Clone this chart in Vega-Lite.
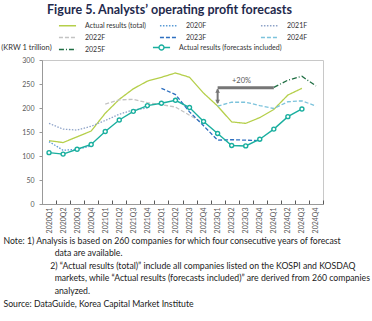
{
  "$schema": "https://vega.github.io/schema/vega-lite/v6.json",
  "width": 281,
  "height": 144,
  "autosize": "none",
  "padding": {"left": 42, "top": 60, "right": 49, "bottom": 117},
  "title": {"text": "Figure 5. Analysts’ operating profit forecasts", "fontSize": 12.5, "fontWeight": "bold", "color": "#1f2a4d", "anchor": "middle", "frame": "group", "dx": -13, "dy": 13, "offset": 6.5, "baseline": "alphabetic"},
  "config": {
    "font": "Lato",
    "view": {"stroke": "#c8c8c8", "strokeWidth": 1},
    "legend": {"padding": 0}
  },
  "datasets": {
    "lines": [
      {"q": "2020Q1", "s": "Actual results (total)", "v": 132},
      {"q": "2020Q2", "s": "Actual results (total)", "v": 128},
      {"q": "2020Q3", "s": "Actual results (total)", "v": 140},
      {"q": "2020Q4", "s": "Actual results (total)", "v": 152},
      {"q": "2021Q1", "s": "Actual results (total)", "v": 189},
      {"q": "2021Q2", "s": "Actual results (total)", "v": 218},
      {"q": "2021Q3", "s": "Actual results (total)", "v": 240},
      {"q": "2021Q4", "s": "Actual results (total)", "v": 256},
      {"q": "2022Q1", "s": "Actual results (total)", "v": 264},
      {"q": "2022Q2", "s": "Actual results (total)", "v": 273},
      {"q": "2022Q3", "s": "Actual results (total)", "v": 264},
      {"q": "2022Q4", "s": "Actual results (total)", "v": 231},
      {"q": "2023Q1", "s": "Actual results (total)", "v": 204},
      {"q": "2023Q2", "s": "Actual results (total)", "v": 171},
      {"q": "2023Q3", "s": "Actual results (total)", "v": 168},
      {"q": "2023Q4", "s": "Actual results (total)", "v": 180},
      {"q": "2024Q1", "s": "Actual results (total)", "v": 197},
      {"q": "2024Q2", "s": "Actual results (total)", "v": 227},
      {"q": "2024Q3", "s": "Actual results (total)", "v": 241},
      {"q": "2020Q1", "s": "2020F", "v": 130},
      {"q": "2020Q2", "s": "2020F", "v": 112},
      {"q": "2020Q3", "s": "2020F", "v": 114},
      {"q": "2020Q4", "s": "2020F", "v": 121},
      {"q": "2020Q1", "s": "2021F", "v": 168},
      {"q": "2020Q2", "s": "2021F", "v": 156},
      {"q": "2020Q3", "s": "2021F", "v": 154},
      {"q": "2020Q4", "s": "2021F", "v": 162},
      {"q": "2021Q1", "s": "2021F", "v": 174},
      {"q": "2021Q2", "s": "2021F", "v": 187},
      {"q": "2021Q3", "s": "2021F", "v": 196},
      {"q": "2021Q4", "s": "2021F", "v": 200},
      {"q": "2021Q1", "s": "2022F", "v": 208},
      {"q": "2021Q2", "s": "2022F", "v": 217},
      {"q": "2021Q3", "s": "2022F", "v": 218},
      {"q": "2021Q4", "s": "2022F", "v": 211},
      {"q": "2022Q1", "s": "2022F", "v": 207},
      {"q": "2022Q2", "s": "2022F", "v": 202},
      {"q": "2022Q3", "s": "2022F", "v": 185},
      {"q": "2022Q4", "s": "2022F", "v": 168},
      {"q": "2022Q1", "s": "2023F", "v": 241},
      {"q": "2022Q2", "s": "2023F", "v": 228},
      {"q": "2022Q3", "s": "2023F", "v": 192},
      {"q": "2022Q4", "s": "2023F", "v": 163},
      {"q": "2023Q1", "s": "2023F", "v": 133},
      {"q": "2023Q2", "s": "2023F", "v": 134},
      {"q": "2023Q3", "s": "2023F", "v": 133},
      {"q": "2023Q4", "s": "2023F", "v": 132},
      {"q": "2023Q1", "s": "2024F", "v": 204},
      {"q": "2023Q2", "s": "2024F", "v": 212},
      {"q": "2023Q3", "s": "2024F", "v": 212},
      {"q": "2023Q4", "s": "2024F", "v": 205},
      {"q": "2024Q1", "s": "2024F", "v": 199},
      {"q": "2024Q2", "s": "2024F", "v": 213},
      {"q": "2024Q3", "s": "2024F", "v": 215},
      {"q": "2024Q4", "s": "2024F", "v": 204},
      {"q": "2024Q1", "s": "2025F", "v": 243},
      {"q": "2024Q2", "s": "2025F", "v": 258},
      {"q": "2024Q3", "s": "2025F", "v": 266},
      {"q": "2024Q4", "s": "2025F", "v": 246},
      {"q": "2020Q1", "s": "Actual results (forecasts included)", "v": 107},
      {"q": "2020Q2", "s": "Actual results (forecasts included)", "v": 104},
      {"q": "2020Q3", "s": "Actual results (forecasts included)", "v": 114},
      {"q": "2020Q4", "s": "Actual results (forecasts included)", "v": 124},
      {"q": "2021Q1", "s": "Actual results (forecasts included)", "v": 151},
      {"q": "2021Q2", "s": "Actual results (forecasts included)", "v": 175},
      {"q": "2021Q3", "s": "Actual results (forecasts included)", "v": 193},
      {"q": "2021Q4", "s": "Actual results (forecasts included)", "v": 205},
      {"q": "2022Q1", "s": "Actual results (forecasts included)", "v": 210},
      {"q": "2022Q2", "s": "Actual results (forecasts included)", "v": 216},
      {"q": "2022Q3", "s": "Actual results (forecasts included)", "v": 201},
      {"q": "2022Q4", "s": "Actual results (forecasts included)", "v": 172},
      {"q": "2023Q1", "s": "Actual results (forecasts included)", "v": 147},
      {"q": "2023Q2", "s": "Actual results (forecasts included)", "v": 122},
      {"q": "2023Q3", "s": "Actual results (forecasts included)", "v": 121},
      {"q": "2023Q4", "s": "Actual results (forecasts included)", "v": 135},
      {"q": "2024Q1", "s": "Actual results (forecasts included)", "v": 156},
      {"q": "2024Q2", "s": "Actual results (forecasts included)", "v": 182},
      {"q": "2024Q3", "s": "Actual results (forecasts included)", "v": 198}
    ],
    "ann": [
      {"part": "bar", "q": "2023Q1", "v": 242},
      {"part": "bar", "q": "2024Q1", "v": 242},
      {"part": "shaft", "q": "2023Q1", "v": 210, "v2": 239},
      {"part": "up", "q": "2023Q1", "v": 236},
      {"part": "down", "q": "2023Q1", "v": 213},
      {"part": "label", "q": "2023Q3", "v": 256, "t": "+20%"}
    ]
  },
  "encoding": {
    "x": {
      "field": "q", "type": "ordinal", "bandPosition": 0.5,
      "scale": {"type": "band", "paddingInner": 0, "paddingOuter": 0,
        "domain": ["2020Q1","2020Q2","2020Q3","2020Q4","2021Q1","2021Q2","2021Q3","2021Q4","2022Q1","2022Q2","2022Q3","2022Q4","2023Q1","2023Q2","2023Q3","2023Q4","2024Q1","2024Q2","2024Q3","2024Q4"]},
      "axis": {
        "labelAngle": 270, "labelFontSize": 7, "labelColor": "#595959", "labelPadding": 7,
        "tickBand": "extent", "tickSize": -4, "tickColor": "#595959", "domainColor": "#999999",
        "title": [
          "Note: 1) Analysis is based on 260 companies for which four consecutive years of forecast",
          "\u200b\u00a0\u00a0\u00a0\u00a0\u00a0\u00a0\u00a0\u00a0\u00a0\u00a0\u00a0\u00a0\u00a0\u00a0\u00a0\u00a0\u00a0\u00a0\u00a0\u00a0\u00a0\u00a0\u00a0data are available.",
          "\u200b\u00a0\u00a0\u00a0\u00a0\u00a0\u00a0\u00a0\u00a0\u00a0\u00a0\u00a0\u00a0\u00a0\u00a0\u00a0\u00a0\u00a0\u00a0\u00a0\u00a0\u00a02) “Actual results (total)” include all companies listed on the KOSPI and KOSDAQ",
          "\u200b\u00a0\u00a0\u00a0\u00a0\u00a0\u00a0\u00a0\u00a0\u00a0\u00a0\u00a0\u00a0\u00a0\u00a0\u00a0\u00a0\u00a0\u00a0\u00a0\u00a0\u00a0\u00a0\u00a0markets, while “Actual results (forecasts included)” are derived from 260 companies",
          "\u200b\u00a0\u00a0\u00a0\u00a0\u00a0\u00a0\u00a0\u00a0\u00a0\u00a0\u00a0\u00a0\u00a0\u00a0\u00a0\u00a0\u00a0\u00a0\u00a0\u00a0\u00a0\u00a0\u00a0analyzed.",
          "Source: DataGuide, Korea Capital Market Institute"
        ],
        "titleAnchor": "start", "titleAlign": "left", "titleBaseline": "top",
        "titleX": -39, "titleY": 32, "titleFontSize": 8.7, "titleFontWeight": "normal",
        "titleColor": "#222222", "titleLineHeight": 12.6
      }
    },
    "y": {
      "field": "v", "type": "quantitative",
      "scale": {"domain": [0, 300], "nice": false},
      "axis": {
        "values": [0, 50, 100, 150, 200, 250, 300], "grid": false,
        "labelFontSize": 7, "labelColor": "#595959", "labelPadding": 5,
        "tickSize": 3, "tickColor": "#999999", "domainColor": "#999999",
        "title": "(KRW 1 trillion)", "titleAngle": 0, "titleAlign": "center", "titleBaseline": "middle",
        "titleX": -16, "titleY": -13, "titleFontSize": 7.5, "titleFontWeight": "normal", "titleColor": "#333333"
      }
    }
  },
  "layer": [
    {
      "data": {"name": "lines"},
      "transform": [{"filter": "datum.s !== 'Actual results (forecasts included)'"}],
      "mark": {"type": "line", "strokeWidth": 1.3},
      "encoding": {
        "color": {
          "field": "s", "type": "nominal",
          "scale": {
            "domain": ["Actual results (total)", "2020F", "2021F", "2022F", "2023F", "2024F", "2025F"],
            "range": ["#b5cf4a", "#5b9bd5", "#8ea3c8", "#c3c3c3", "#2e6fc0", "#7cc3dc", "#1f6e43"]
          },
          "legend": {
            "orient": "none", "direction": "horizontal", "legendX": 20, "legendY": -40, "columns": 3, "gridAlign": "all",
            "columnPadding": 10, "rowPadding": 3, "symbolType": "M-1.9,0L1.9,0", "symbolSize": 81,
            "symbolStrokeWidth": 1.5, "labelOffset": 12, "labelFontSize": 7, "labelColor": "#333333", "title": null
          }
        },
        "strokeDash": {
          "field": "s", "type": "nominal",
          "scale": {
            "domain": ["Actual results (total)", "2020F", "2021F", "2022F", "2023F", "2024F", "2025F"],
            "range": [[1, 0], [1.5, 1.5], [1.5, 1.5], [4, 2], [4, 2], [4, 2], [5, 2, 1, 2]]
          },
          "legend": {
            "orient": "none", "direction": "horizontal", "legendX": 20, "legendY": -40, "columns": 3, "gridAlign": "all",
            "columnPadding": 10, "rowPadding": 3, "symbolType": "M-1.9,0L1.9,0", "symbolSize": 81,
            "symbolStrokeWidth": 1.5, "labelOffset": 12, "labelFontSize": 7, "labelColor": "#333333", "title": null
          }
        }
      }
    },
    {
      "data": {"name": "lines"},
      "transform": [{"filter": "datum.s === 'Actual results (forecasts included)'"}],
      "mark": {"type": "line", "strokeWidth": 1.4},
      "encoding": {
        "stroke": {
          "field": "s", "type": "nominal",
          "scale": {"domain": ["Actual results (forecasts included)"], "range": ["#1aaf9f"]},
          "legend": {
            "orient": "none", "direction": "horizontal", "legendX": 114, "legendY": -18, "symbolType": "M-1.9,0L-0.55,0M0.55,0L1.9,0M-0.55,0A0.55,0.55 0 1,0 0.55,0A0.55,0.55 0 1,0 -0.55,0",
            "symbolSize": 81, "symbolStrokeWidth": 1.4, "symbolFillColor": "white",
            "labelOffset": 12, "labelFontSize": 7, "labelColor": "#333333", "title": null
          }
        }
      }
    },
    {
      "data": {"name": "lines"},
      "transform": [{"filter": "datum.s === 'Actual results (forecasts included)'"}],
      "mark": {"type": "point", "filled": true, "fill": "white", "stroke": "#1aaf9f", "strokeWidth": 1.4, "size": 16, "opacity": 1}
    },
    {
      "data": {"name": "ann"},
      "transform": [{"filter": "datum.part === 'bar'"}],
      "mark": {"type": "line", "color": "#767676", "strokeWidth": 3}
    },
    {
      "data": {"name": "ann"},
      "transform": [{"filter": "datum.part === 'shaft'"}],
      "mark": {"type": "rule", "color": "#767676", "strokeWidth": 2},
      "encoding": {"y2": {"field": "v2"}}
    },
    {
      "data": {"name": "ann"},
      "transform": [{"filter": "datum.part === 'up'"}],
      "mark": {"type": "point", "shape": "triangle-up", "filled": true, "color": "#767676", "size": 22, "opacity": 1}
    },
    {
      "data": {"name": "ann"},
      "transform": [{"filter": "datum.part === 'down'"}],
      "mark": {"type": "point", "shape": "triangle-down", "filled": true, "color": "#767676", "size": 22, "opacity": 1}
    },
    {
      "data": {"name": "ann"},
      "transform": [{"filter": "datum.part === 'label'"}],
      "mark": {"type": "text", "fontSize": 7.5, "color": "#595959", "align": "center", "baseline": "middle"},
      "encoding": {"text": {"field": "t"}, "x": {"field": "q", "type": "ordinal", "bandPosition": 0.2}}
    }
  ]
}
